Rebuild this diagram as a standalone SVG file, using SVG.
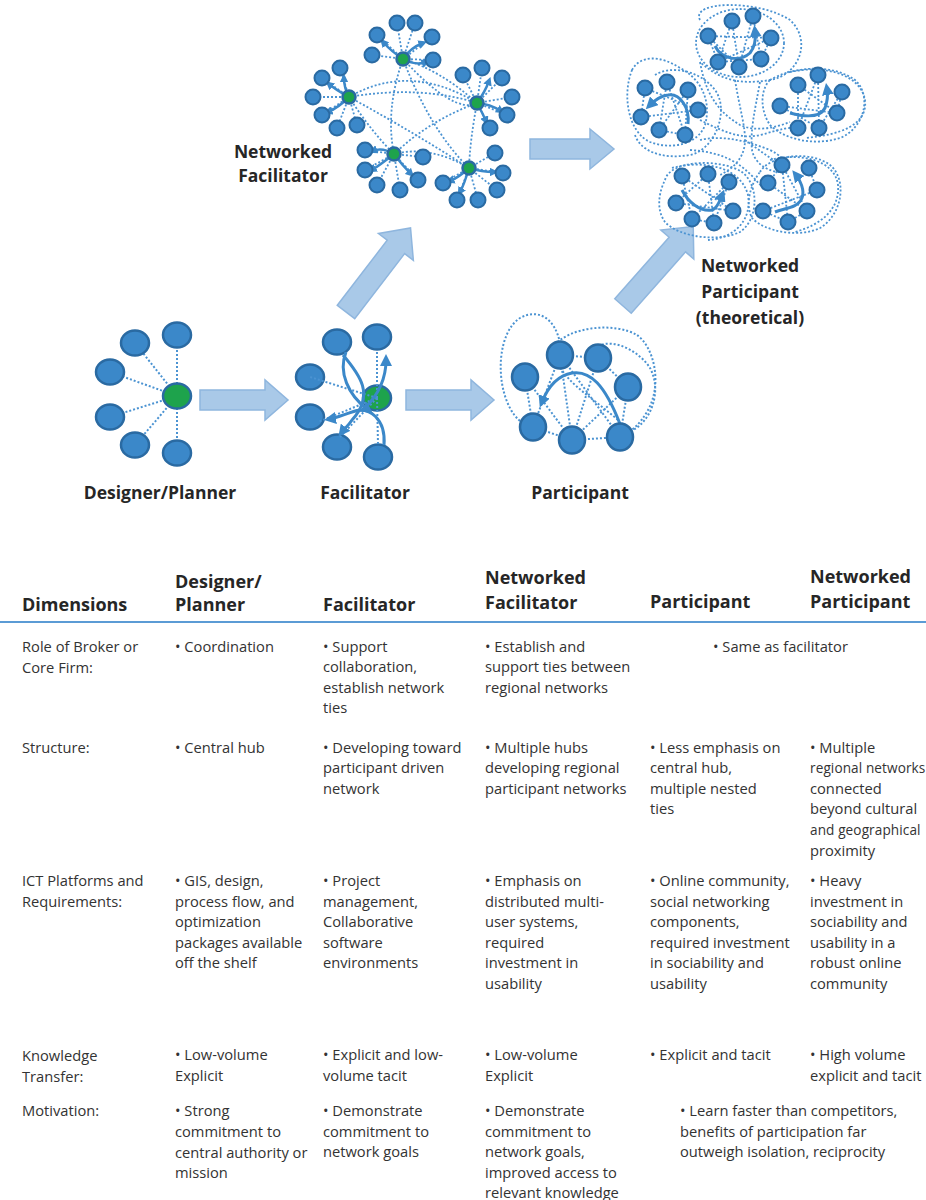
<svg xmlns="http://www.w3.org/2000/svg" width="926" height="1200" viewBox="0 0 926 1200">
<style>
.n{fill:#3b88c9;stroke:#2a6aa2;stroke-width:2.5}
.s{fill:#3b88c9;stroke:#2a6aa2;stroke-width:2}
.hub{fill:#1ea34c;stroke:#2a6aa2;stroke-width:2.5}
.shub{fill:#1ea34c;stroke:#2a6aa2;stroke-width:2.5}
.dot{fill:none;stroke:#4b93d2;stroke-width:2;stroke-dasharray:2 2}
.dl{fill:none;stroke:#4b93d2;stroke-width:1.8;stroke-dasharray:2 2}
.arr{fill:none;stroke:#3b88c9;stroke-width:3;marker-end:url(#ah)}
.sar{fill:none;stroke:#3b88c9;stroke-width:2.5;marker-end:url(#sah)}
.big{fill:#a9c9e8;stroke:#8fb6de;stroke-width:1.5}
.lbl{font-family:"Open Sans",Lato,sans-serif;font-weight:bold;font-size:17.5px;fill:#262626;text-anchor:middle}
.h{font-family:"Open Sans",Lato,sans-serif;font-weight:bold;font-size:18px;fill:#262626}
.t{font-family:"Open Sans",Lato,sans-serif;font-size:14.7px;fill:#333333}
.tn{font-size:13.6px;letter-spacing:0.1px}
</style>
<defs>
<marker id="ah" viewBox="0 0 10 10" refX="5" refY="5" markerWidth="4" markerHeight="4" orient="auto" markerUnits="strokeWidth"><path d="M0,0 L10,5 L0,10 Z" fill="#3b88c9"/></marker>
<marker id="sah" viewBox="0 0 10 10" refX="5" refY="5" markerWidth="3.5" markerHeight="3.5" orient="auto" markerUnits="strokeWidth"><path d="M0,0 L10,5 L0,10 Z" fill="#3b88c9"/></marker>
</defs>

<g id="block-arrows">
<path class="big" d="M200,390 H265 V380 L288,400 L265,420 V410 H200 Z"/>
<path class="big" d="M406,390 H471 V380 L494,400 L471,420 V410 H406 Z"/>
<path class="big" d="M530,139 H590 V129 L614,149 L590,169 V159 H530 Z"/>
<g transform="translate(346,312) rotate(-52.5)"><path class="big" d="M0,-11 H82 V-22 L106,0 L82,22 V11 H0 Z"/></g>
<g transform="translate(623,306) rotate(-48.5)"><path class="big" d="M0,-11 H82 V-22 L106,0 L82,22 V11 H0 Z"/></g>
</g>

<g id="designer-planner">
<g class="connectors">
<path class="dot" d="M177,396 L135,343 M177,396 L177,335 M177,396 L110,372 M177,396 L110,417 M177,396 L135,445 M177,396 L177,453"/>
</g>
<ellipse class="n" cx="135" cy="343" rx="14" ry="12.5"/>
<ellipse class="n" cx="177" cy="335" rx="14" ry="12.5"/>
<ellipse class="n" cx="110" cy="372" rx="14" ry="12.5"/>
<ellipse class="n" cx="110" cy="417" rx="14" ry="12.5"/>
<ellipse class="n" cx="135" cy="445" rx="14" ry="12.5"/>
<ellipse class="n" cx="177" cy="453" rx="14" ry="12.5"/>
<ellipse class="hub" cx="177" cy="396" rx="14" ry="12.5"/>
<text class="lbl" x="160" y="499">Designer/Planner</text>
</g>

<g id="facilitator">
<ellipse class="n" cx="337" cy="342" rx="14" ry="12.5"/>
<ellipse class="n" cx="377" cy="337" rx="14" ry="12.5"/>
<ellipse class="n" cx="310" cy="377" rx="14" ry="12.5"/>
<ellipse class="n" cx="310" cy="417" rx="14" ry="12.5"/>
<ellipse class="n" cx="337" cy="447" rx="14" ry="12.5"/>
<ellipse class="n" cx="378" cy="457" rx="14" ry="12.5"/>
<ellipse class="hub" cx="377" cy="398" rx="14" ry="12.5"/>
<g class="connectors">
<path class="dot" d="M377,398 L310,377 M377,398 L318,422 M377,398 L340,437 M377,398 L377,350 M377,398 L378,444"/>
<path class="arr" d="M343,355 C360,375 375,395 352,420 C348,426 345,428 342,432"/>
<path class="arr" d="M346,352 C338,372 348,395 368,410"/>
<path class="arr" d="M365,408 C378,395 386,380 386,360"/>
<path class="arr" d="M384,445 C386,420 370,405 352,412 C343,415 336,418 330,419"/>
</g>
<text class="lbl" x="365" y="499">Facilitator</text>
</g>

<g id="participant">
<g class="connectors">
<path class="dot" d="M525,377 L533,427 M560,355 L598,358 M598,358 L628,387 M533,427 L572,440 M572,440 L620,437 M560,355 L572,440 M598,358 L572,440 M628,387 L572,440 M560,355 L620,437 M525,377 L572,440 M560,355 L533,427 M628,387 L620,437"/>
<path class="dot" d="M560,343 C555,318 538,308 520,318 C498,332 495,380 510,408 C515,418 522,423 526,425"/>
<path class="dot" d="M552,348 C568,326 615,322 637,335 C655,348 662,385 648,410 C640,425 630,432 622,436"/>
<path class="dot" d="M598,346 C615,338 640,352 650,368 C662,390 652,420 633,430"/>
<path class="dot" d="M618,420 C595,400 570,385 560,367"/>
<path class="arr" d="M620,424 C605,385 590,370 572,373 C555,376 546,392 542,402"/>
</g>
<ellipse class="n" cx="560" cy="355" rx="13" ry="13.5"/>
<ellipse class="n" cx="598" cy="358" rx="13" ry="13.5"/>
<ellipse class="n" cx="525" cy="377" rx="13" ry="13.5"/>
<ellipse class="n" cx="628" cy="387" rx="13" ry="13.5"/>
<ellipse class="n" cx="533" cy="427" rx="13" ry="13.5"/>
<ellipse class="n" cx="572" cy="440" rx="13" ry="13.5"/>
<ellipse class="n" cx="620" cy="437" rx="13" ry="13.5"/>
<text class="lbl" x="580" y="499">Participant</text>
</g>

<g id="networked-facilitator">
<g class="connectors">
<path class="dl" d="M349,97 Q410,62 477,103 M403,59 Q440,70 477,103 M403,59 Q385,110 394,154 M403,59 Q430,130 469,168 M349,97 Q370,130 394,154 M349,97 Q410,130 469,168 M477,103 Q430,120 394,154 M477,103 Q470,140 469,168 M394,154 Q430,145 469,168 M349,97 Q420,85 477,103 M403,59 Q455,115 477,103"/>
<path class="dl" d="M403,59 L397,23 M403,59 L415,23 M403,59 L377,35 M403,59 L432,37 M403,59 L372,55 M403,59 L433,60"/>
<path class="dl" d="M349,97 L340,68 M349,97 L322,78 M349,97 L313,97 M349,97 L322,115 M349,97 L337,128 M349,97 L357,125"/>
<path class="dl" d="M477,103 L463,75 M477,103 L482,68 M477,103 L502,78 M477,103 L512,97 M477,103 L507,115 M477,103 L490,128"/>
<path class="dl" d="M394,154 L365,150 M394,154 L365,170 M394,154 L377,185 M394,154 L400,190 M394,154 L418,180 M394,154 L423,157"/>
<path class="dl" d="M469,168 L443,183 M469,168 L457,200 M469,168 L478,200 M469,168 L497,190 M469,168 L503,173 M469,168 L495,153"/>
<path class="sar" d="M403,59 Q392,52 383,42"/>
<path class="sar" d="M403,59 Q416,66 426,62"/>
<path class="sar" d="M403,59 Q410,48 423,43"/>
<path class="sar" d="M349,97 Q344,88 344,78"/>
<path class="sar" d="M349,97 Q338,108 328,112"/>
<path class="sar" d="M349,97 Q336,90 329,84"/>
<path class="sar" d="M477,103 Q485,92 489,81"/>
<path class="sar" d="M477,103 Q482,112 486,121"/>
<path class="sar" d="M477,103 Q490,104 501,111"/>
<path class="sar" d="M394,154 Q382,147 373,151"/>
<path class="sar" d="M394,154 Q380,165 372,170"/>
<path class="sar" d="M394,154 Q402,165 411,174"/>
<path class="sar" d="M469,168 Q458,178 450,181"/>
<path class="sar" d="M469,168 Q464,185 460,192"/>
<path class="sar" d="M469,168 Q482,172 494,172"/>
</g>
<g class="nodes">
<circle class="s" cx="397" cy="23" r="7.5"/><circle class="s" cx="415" cy="23" r="7.5"/><circle class="s" cx="377" cy="35" r="7.5"/><circle class="s" cx="432" cy="37" r="7.5"/><circle class="s" cx="372" cy="55" r="7.5"/><circle class="s" cx="433" cy="60" r="7.5"/>
<circle class="s" cx="340" cy="68" r="7.5"/><circle class="s" cx="322" cy="78" r="7.5"/><circle class="s" cx="313" cy="97" r="7.5"/><circle class="s" cx="322" cy="115" r="7.5"/><circle class="s" cx="337" cy="128" r="7.5"/><circle class="s" cx="357" cy="125" r="7.5"/>
<circle class="s" cx="463" cy="75" r="7.5"/><circle class="s" cx="482" cy="68" r="7.5"/><circle class="s" cx="502" cy="78" r="7.5"/><circle class="s" cx="512" cy="97" r="7.5"/><circle class="s" cx="507" cy="115" r="7.5"/><circle class="s" cx="490" cy="128" r="7.5"/>
<circle class="s" cx="365" cy="150" r="7.5"/><circle class="s" cx="365" cy="170" r="7.5"/><circle class="s" cx="377" cy="185" r="7.5"/><circle class="s" cx="400" cy="190" r="7.5"/><circle class="s" cx="418" cy="180" r="7.5"/><circle class="s" cx="423" cy="157" r="7.5"/>
<circle class="s" cx="443" cy="183" r="7.5"/><circle class="s" cx="457" cy="200" r="7.5"/><circle class="s" cx="478" cy="200" r="7.5"/><circle class="s" cx="497" cy="190" r="7.5"/><circle class="s" cx="503" cy="173" r="7.5"/><circle class="s" cx="495" cy="153" r="7.5"/>
<circle class="shub" cx="403" cy="59" r="6.5"/><circle class="shub" cx="349" cy="97" r="6.5"/><circle class="shub" cx="477" cy="103" r="6.5"/><circle class="shub" cx="394" cy="154" r="6.5"/><circle class="shub" cx="469" cy="168" r="6.5"/>
</g>
<text class="lbl" x="283" y="158">Networked</text>
<text class="lbl" x="283" y="182">Facilitator</text>
</g>

<g id="networked-participant">
<g class="connectors">
<path class="dl" d="M708,36 L718,62 M708,36 L739,67 M732,21 L739,67 M732,21 L718,62 M753,16 L761,59 M753,16 L739,67 M771,38 L761,59 M771,38 L718,62 M708,36 L771,38 M718,62 L761,59"/>
<ellipse class="dl" cx="740" cy="43" rx="44" ry="34"/>
<path class="dl" d="M700,20 C690,0 760,0 790,20 C812,40 800,75 770,80 C740,85 720,80 700,62"/>
<path class="dl" d="M645,88 L641,117 M667,82 L659,130 M688,90 L685,135 M645,88 L698,110 M667,82 L685,135 M688,90 L659,130 M641,117 L698,110 M659,130 L685,135"/>
<path class="dl" d="M632,70 C640,55 660,55 680,68 C700,78 712,100 705,125 C698,145 670,150 650,142 C628,132 622,95 632,70 Z"/>
<path class="dl" d="M655,75 C670,65 700,70 715,90 C730,110 715,150 690,155 C660,160 640,150 635,135"/>
<path class="dl" d="M798,85 L798,128 M818,75 L819,128 M842,92 L819,128 M780,106 L837,113 M798,85 L837,113 M818,75 L798,128 M780,106 L819,128 M842,92 L837,113"/>
<path class="dl" d="M770,80 C790,68 830,62 855,80 C872,95 865,128 840,138 C815,146 785,140 770,125 C760,110 760,90 770,80 Z"/>
<path class="dl" d="M790,72 C820,65 860,72 865,100 C868,125 840,135 805,138"/>
<path class="dl" d="M682,176 L692,219 M708,174 L714,223 M729,182 L692,219 M676,203 L733,211 M682,176 L733,211 M708,174 L676,203 M729,182 L714,223 M692,219 L714,223"/>
<path class="dl" d="M665,180 C670,160 720,158 742,172 C760,186 758,220 740,232 C720,242 680,238 665,222 C655,208 660,190 665,180 Z"/>
<path class="dl" d="M672,168 C700,160 740,165 748,195 C752,220 735,238 708,240"/>
<path class="dl" d="M782,165 L768,183 M809,168 L817,190 M768,183 L807,211 M782,165 L807,211 M763,211 L817,190 M763,211 L788,222 M788,222 L807,211 M782,165 L788,222"/>
<path class="dl" d="M760,172 C770,155 810,150 830,165 C848,180 842,215 820,228 C800,238 765,232 752,218 C745,205 750,185 760,172 Z"/>
<path class="dl" d="M770,160 C800,152 835,160 838,185 C840,210 820,225 795,232"/>
<path class="dl" d="M735,80 C740,110 745,125 745,140 C745,160 730,170 720,175 M760,82 C755,110 750,130 752,150 C755,165 770,172 780,172 M700,120 C720,130 740,140 760,135 C780,130 790,125 800,130 M700,140 C720,135 745,140 770,150 C780,155 785,160 785,165 M690,150 C720,152 740,160 760,185 M745,140 C760,150 770,160 790,168"/>
<path class="dl" d="M700,62 C705,90 715,110 740,125 C755,132 775,128 790,122"/>
<path class="arr" d="M715,46 C722,60 740,62 750,53 C755,47 756,40 755,31"/>
<path class="arr" d="M688,124 C690,108 680,93 668,95 C660,96 655,100 650,105"/>
<path class="arr" d="M790,113 C805,117 820,118 825,108 C828,100 828,95 827,89"/>
<path class="arr" d="M682,190 C688,202 700,212 712,210 C718,208 720,200 722,195"/>
<path class="arr" d="M775,212 C785,208 798,208 802,198 C805,190 800,180 796,175"/>
</g>
<g class="nodes">
<circle class="s" cx="708" cy="36" r="7.5"/><circle class="s" cx="732" cy="21" r="7.5"/><circle class="s" cx="753" cy="16" r="7.5"/><circle class="s" cx="771" cy="38" r="7.5"/><circle class="s" cx="718" cy="62" r="7.5"/><circle class="s" cx="739" cy="67" r="7.5"/><circle class="s" cx="761" cy="59" r="7.5"/>
<circle class="s" cx="645" cy="88" r="7.5"/><circle class="s" cx="667" cy="82" r="7.5"/><circle class="s" cx="688" cy="90" r="7.5"/><circle class="s" cx="641" cy="117" r="7.5"/><circle class="s" cx="698" cy="110" r="7.5"/><circle class="s" cx="659" cy="130" r="7.5"/><circle class="s" cx="685" cy="135" r="7.5"/>
<circle class="s" cx="798" cy="85" r="7.5"/><circle class="s" cx="818" cy="75" r="7.5"/><circle class="s" cx="842" cy="92" r="7.5"/><circle class="s" cx="780" cy="106" r="7.5"/><circle class="s" cx="837" cy="113" r="7.5"/><circle class="s" cx="798" cy="128" r="7.5"/><circle class="s" cx="819" cy="128" r="7.5"/>
<circle class="s" cx="682" cy="176" r="7.5"/><circle class="s" cx="708" cy="174" r="7.5"/><circle class="s" cx="729" cy="182" r="7.5"/><circle class="s" cx="676" cy="203" r="7.5"/><circle class="s" cx="733" cy="211" r="7.5"/><circle class="s" cx="692" cy="219" r="7.5"/><circle class="s" cx="714" cy="223" r="7.5"/>
<circle class="s" cx="782" cy="165" r="7.5"/><circle class="s" cx="809" cy="168" r="7.5"/><circle class="s" cx="768" cy="183" r="7.5"/><circle class="s" cx="817" cy="190" r="7.5"/><circle class="s" cx="763" cy="211" r="7.5"/><circle class="s" cx="807" cy="211" r="7.5"/><circle class="s" cx="788" cy="222" r="7.5"/>
</g>
<text class="lbl" x="750" y="272">Networked</text>
<text class="lbl" x="750" y="298">Participant</text>
<text class="lbl" x="750" y="324">(theoretical)</text>
</g>

<g id="table">
<line x1="0" y1="622" x2="926" y2="622" stroke="#5b9bd5" stroke-width="2"/>
<text class="h" x="22" y="611">Dimensions</text>
<text class="h" x="175" y="588">Designer/</text>
<text class="h" x="175" y="611">Planner</text>
<text class="h" x="323" y="611">Facilitator</text>
<text class="h" x="485" y="584">Networked</text>
<text class="h" x="485" y="609">Facilitator</text>
<text class="h" x="650" y="608">Participant</text>
<text class="h" x="810" y="583">Networked</text>
<text class="h" x="810" y="608">Participant</text>

<text class="t" x="22" y="652">Role of Broker or</text>
<text class="t" x="22" y="673">Core Firm:</text>
<text class="t" x="175" y="652">• Coordination</text>
<text class="t" x="323" y="652">• Support</text>
<text class="t" x="323" y="672">collaboration,</text>
<text class="t" x="323" y="693">establish network</text>
<text class="t" x="323" y="713">ties</text>
<text class="t" x="485" y="652">• Establish and</text>
<text class="t" x="485" y="672">support ties between</text>
<text class="t" x="485" y="693">regional networks</text>
<text class="t" x="713" y="652">• Same as facilitator</text>

<text class="t" x="22" y="753">Structure:</text>
<text class="t" x="175" y="753">• Central hub</text>
<text class="t" x="323" y="753">• Developing toward</text>
<text class="t" x="323" y="773">participant driven</text>
<text class="t" x="323" y="794">network</text>
<text class="t" x="485" y="753">• Multiple hubs</text>
<text class="t" x="485" y="773">developing regional</text>
<text class="t" x="485" y="794">participant networks</text>
<text class="t" x="650" y="753">• Less emphasis on</text>
<text class="t" x="650" y="773">central hub,</text>
<text class="t" x="650" y="794">multiple nested</text>
<text class="t" x="650" y="814">ties</text>
<text class="t" x="810" y="753">• Multiple</text>
<text class="t tn" x="810" y="773">regional networks</text>
<text class="t" x="810" y="794">connected</text>
<text class="t" x="810" y="814">beyond cultural</text>
<text class="t tn" x="810" y="835">and geographical</text>
<text class="t" x="810" y="856">proximity</text>

<text class="t" x="22" y="886">ICT Platforms and</text>
<text class="t" x="22" y="907">Requirements:</text>
<text class="t" x="175" y="886">• GIS, design,</text>
<text class="t" x="175" y="907">process flow, and</text>
<text class="t" x="175" y="927">optimization</text>
<text class="t" x="175" y="948">packages available</text>
<text class="t" x="175" y="968">off the shelf</text>
<text class="t" x="323" y="886">• Project</text>
<text class="t" x="323" y="907">management,</text>
<text class="t" x="323" y="927">Collaborative</text>
<text class="t" x="323" y="948">software</text>
<text class="t" x="323" y="968">environments</text>
<text class="t" x="485" y="886">• Emphasis on</text>
<text class="t" x="485" y="907">distributed multi-</text>
<text class="t" x="485" y="927">user systems,</text>
<text class="t" x="485" y="948">required</text>
<text class="t" x="485" y="968">investment in</text>
<text class="t" x="485" y="989">usability</text>
<text class="t" x="650" y="886">• Online community,</text>
<text class="t" x="650" y="907">social networking</text>
<text class="t" x="650" y="927">components,</text>
<text class="t" x="650" y="948">required investment</text>
<text class="t" x="650" y="968">in sociability and</text>
<text class="t" x="650" y="989">usability</text>
<text class="t" x="810" y="886">• Heavy</text>
<text class="t" x="810" y="907">investment in</text>
<text class="t" x="810" y="927">sociability and</text>
<text class="t" x="810" y="948">usability in a</text>
<text class="t" x="810" y="968">robust online</text>
<text class="t" x="810" y="989">community</text>

<text class="t" x="22" y="1061">Knowledge</text>
<text class="t" x="22" y="1082">Transfer:</text>
<text class="t" x="175" y="1060">• Low-volume</text>
<text class="t" x="175" y="1081">Explicit</text>
<text class="t" x="323" y="1060">• Explicit and low-</text>
<text class="t" x="323" y="1081">volume tacit</text>
<text class="t" x="485" y="1060">• Low-volume</text>
<text class="t" x="485" y="1081">Explicit</text>
<text class="t" x="650" y="1060">• Explicit and tacit</text>
<text class="t" x="810" y="1060">• High volume</text>
<text class="t" x="810" y="1081">explicit and tacit</text>

<text class="t" x="22" y="1116">Motivation:</text>
<text class="t" x="175" y="1116">• Strong</text>
<text class="t" x="175" y="1137">commitment to</text>
<text class="t" x="175" y="1158">central authority or</text>
<text class="t" x="175" y="1178">mission</text>
<text class="t" x="323" y="1116">• Demonstrate</text>
<text class="t" x="323" y="1137">commitment to</text>
<text class="t" x="323" y="1157">network goals</text>
<text class="t" x="485" y="1116">• Demonstrate</text>
<text class="t" x="485" y="1137">commitment to</text>
<text class="t" x="485" y="1157">network goals,</text>
<text class="t" x="485" y="1178">improved access to</text>
<text class="t" x="485" y="1198">relevant knowledge</text>
<text class="t" x="680" y="1116">•  Learn faster than competitors,</text>
<text class="t" x="680" y="1137">benefits of participation far</text>
<text class="t" x="680" y="1157">outweigh isolation, reciprocity</text>
</g>
</svg>
